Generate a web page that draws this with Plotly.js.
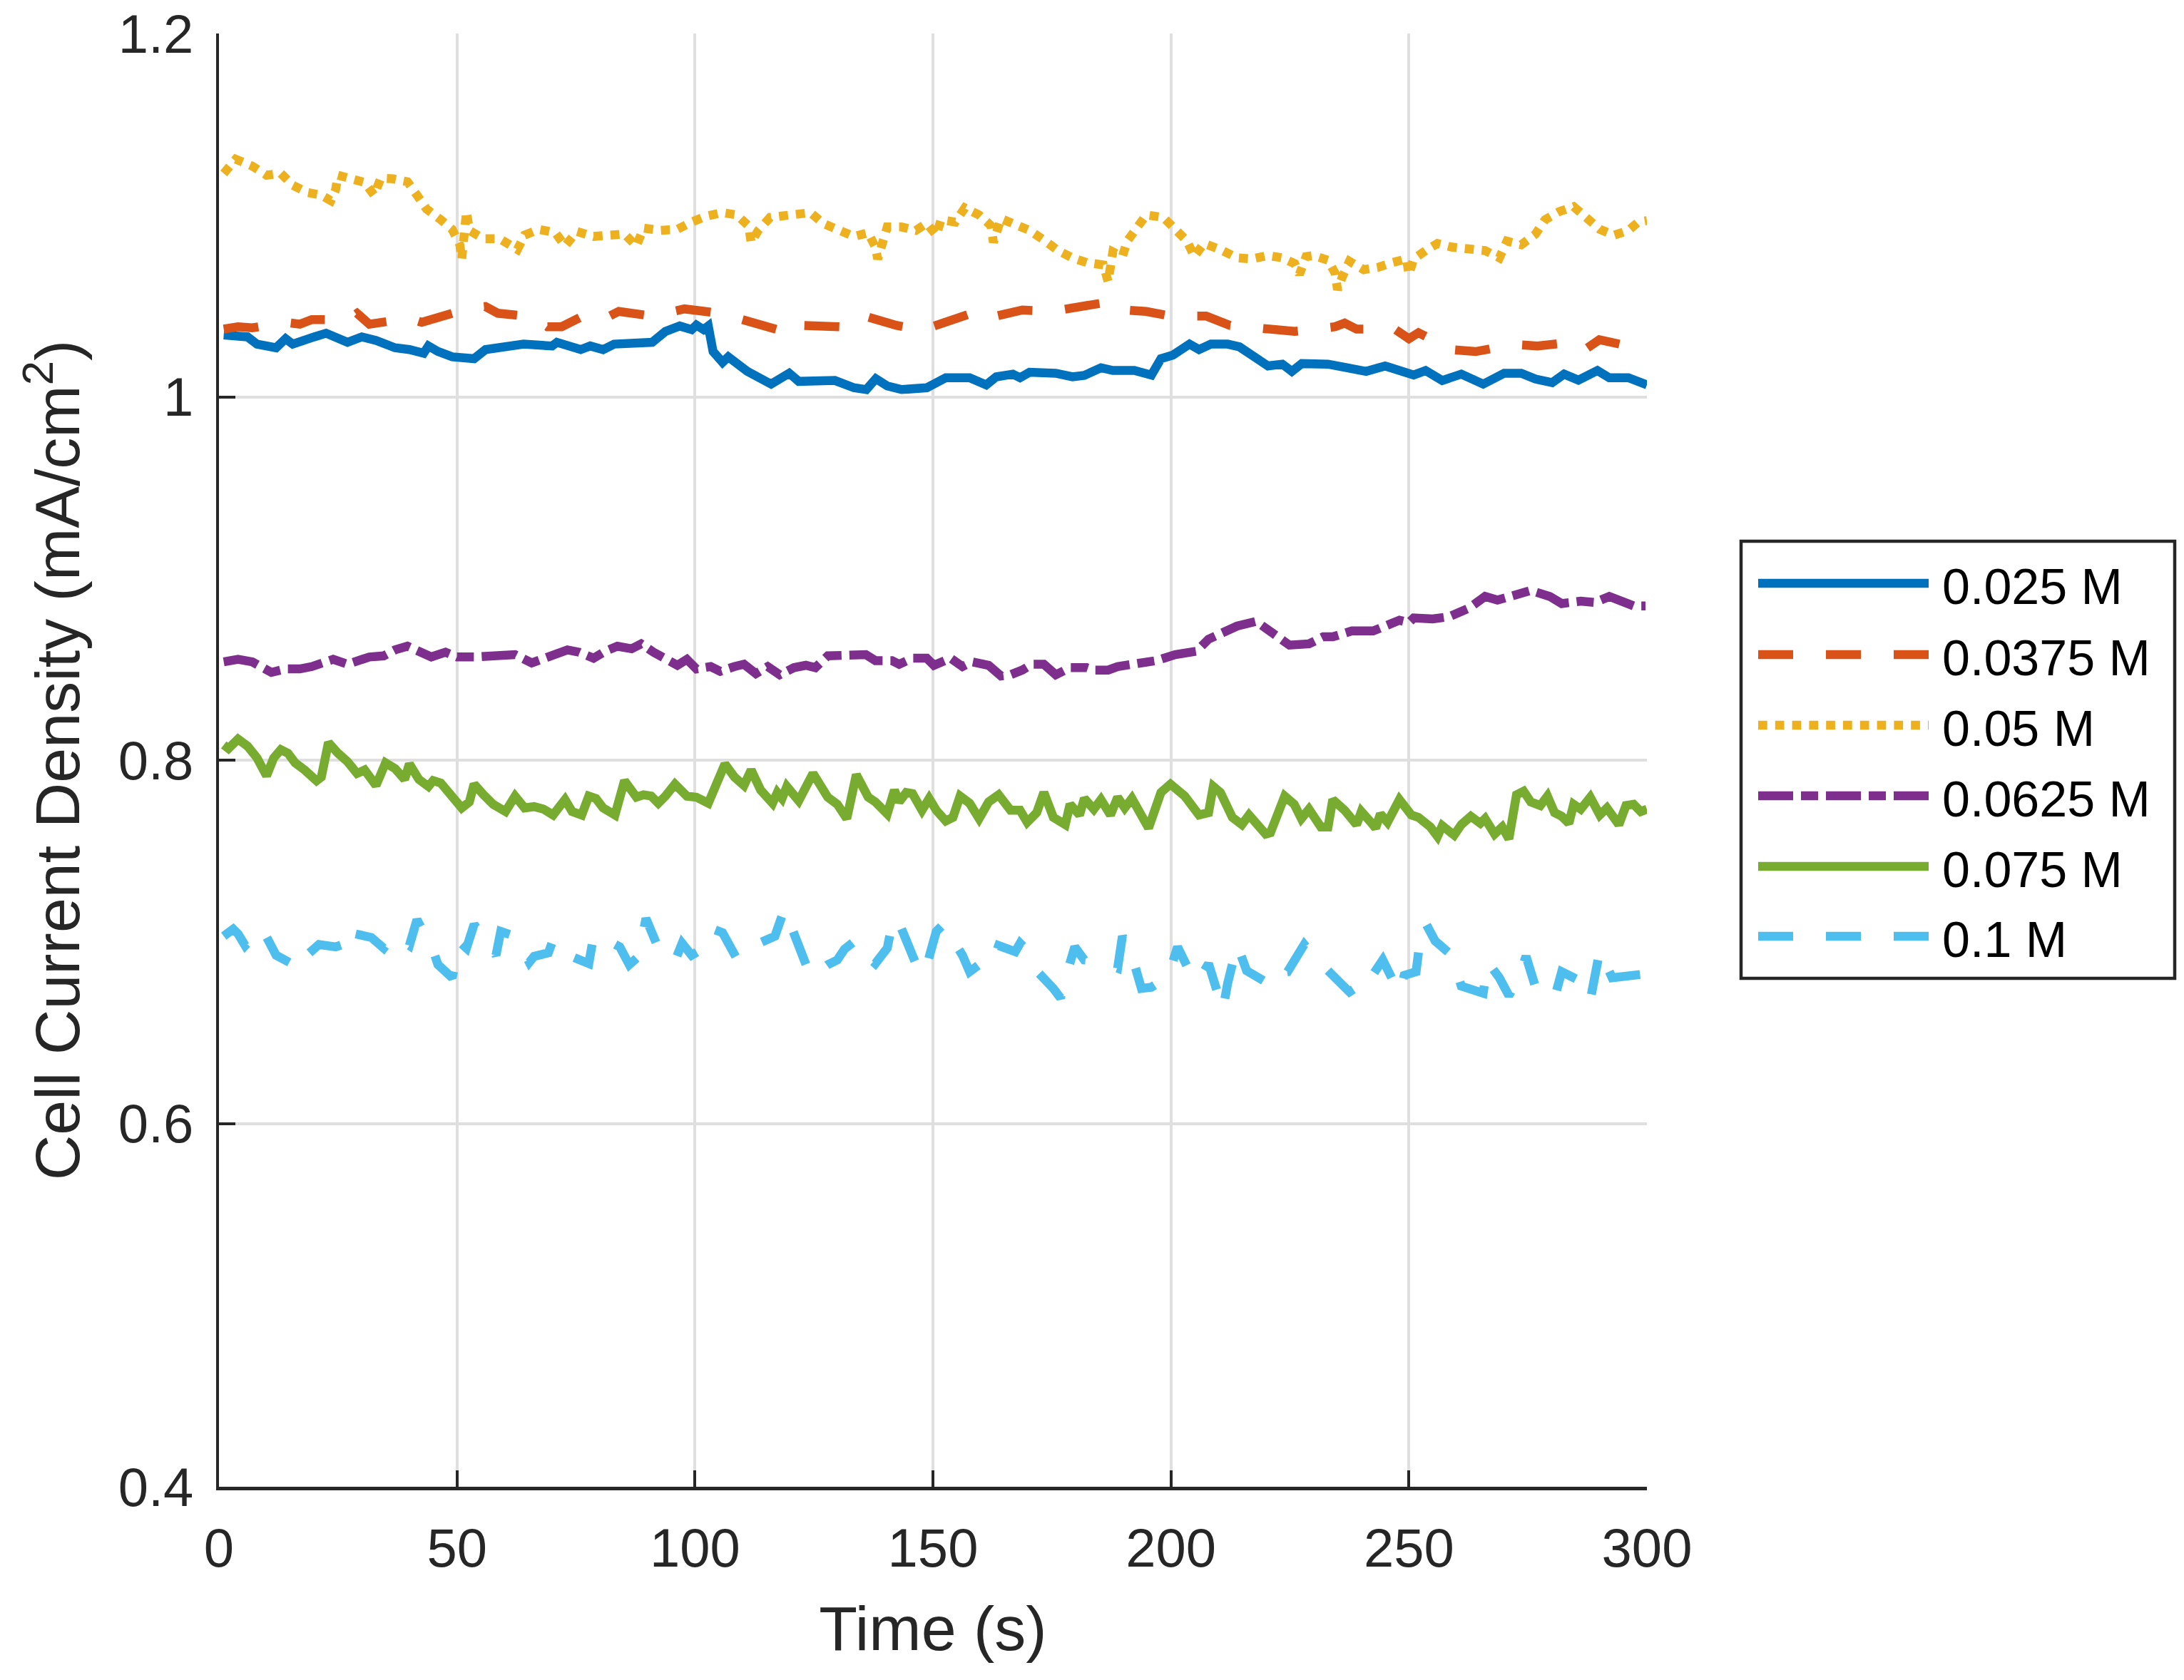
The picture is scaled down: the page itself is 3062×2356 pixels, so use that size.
<!DOCTYPE html>
<html>
<head>
<meta charset="utf-8">
<script src="https://cdn.plot.ly/plotly-3.0.1.min.js"></script>
<style>html,body{margin:0;padding:0;background:#fff;}#chart{width:3062px;height:2356px;}</style>
</head>
<body>
<div id="chart"></div>
<script>
// ---------- DATA (time s, current density mA/cm^2) ----------
const seriesNames = ["0.025 M", "0.0375 M", "0.05 M", "0.0625 M", "0.075 M", "0.1 M"];
const seriesColors = ["#0072BD", "#D95319", "#EDB120", "#7E2F8E", "#77AC30", "#4DBEEE"];
const xTickVals = [0, 50, 100, 150, 200, 250, 300];
const yTickVals = [0.4, 0.6, 0.8, 1.0, 1.2];
const yTickText = ["0.4", "0.6", "0.8", "1", "1.2"];

const s025 = [[1,1.034],[6,1.033],[8,1.029],[12,1.027],[14,1.032],[15.5,1.029],[20,1.033],[22.5,1.035],[27,1.030],[30,1.033],[33,1.031],[37,1.027],[40,1.026],[43,1.024],[44,1.028],[46,1.025],[49,1.022],[53.6,1.021],[56,1.026],[61,1.028],[64,1.029],[70,1.028],[71,1.030],[76,1.026],[78,1.028],[80.7,1.026],[83,1.029],[91,1.030],[93.8,1.036],[96.8,1.039],[99.3,1.037],[100.3,1.0395],[101.8,1.037],[102.8,1.039],[103.8,1.025],[105.8,1.019],[107,1.022],[111,1.014],[116,1.007],[119.8,1.013],[121.8,1.0085],[129.4,1.009],[133.4,1.005],[136,1.004],[138,1.010],[140.4,1.006],[143.4,1.004],[148.7,1.005],[152.7,1.0105],[157.7,1.0105],[161.2,1.0066],[163.3,1.011],[166.8,1.0125],[168.3,1.0105],[170.3,1.0135],[175.8,1.013],[179.3,1.011],[181.8,1.0118],[185.3,1.016],[187.8,1.0145],[192.3,1.0145],[195.9,1.012],[197.9,1.021],[200.4,1.023],[203.9,1.029],[205.9,1.026],[208.4,1.029],[211.9,1.029],[214.4,1.0275],[220.4,1.017],[223.4,1.018],[225.4,1.014],[227.5,1.0183],[233,1.018],[241,1.014],[245,1.017],[251,1.012],[253.5,1.0145],[257,1.009],[261,1.0125],[265.6,1.007],[270,1.013],[273.6,1.013],[276.6,1.0098],[280.1,1.0078],[282.6,1.0125],[285.6,1.0092],[289.6,1.0145],[292.1,1.0105],[296.1,1.0105],[300,1.0066]];

const s0375 = [[1,1.0373],[4,1.0386],[7,1.038],[14,1.041],[17,1.040],[19.5,1.0425],[27,1.0425],[29,1.046],[31.6,1.040],[40,1.0432],[42.6,1.041],[45.6,1.0432],[53,1.049],[56,1.0497],[58.6,1.046],[66,1.044],[69,1.0386],[72,1.0386],[78,1.0465],[81.7,1.044],[84,1.047],[91,1.0445],[97.8,1.0484],[105.3,1.046],[110.3,1.042],[117.3,1.037],[120.3,1.0425],[122.8,1.0393],[130.4,1.0386],[134.9,1.045],[142.4,1.0393],[147.7,1.0367],[155.7,1.0438],[158.7,1.0465],[161.2,1.0432],[168.8,1.0478],[174.8,1.047],[181.8,1.0504],[185.8,1.0517],[187.3,1.0484],[194.8,1.047],[199.9,1.0445],[207.4,1.0445],[212.4,1.0393],[221,1.0367],[226,1.036],[234.5,1.0386],[236.5,1.0406],[239,1.0373],[247,1.0373],[250,1.032],[252,1.0353],[259,1.026],[264,1.0249],[272,1.0288],[277,1.028],[284,1.03],[287,1.026],[290,1.0314],[297,1.0275],[300,1.0314]];

const s05 = [[1,1.123],[3.5,1.1308],[7,1.127],[10,1.122],[13,1.123],[15.5,1.1165],[18.5,1.1125],[21.5,1.111],[23.5,1.108],[24.5,1.114],[25,1.122],[27.5,1.1204],[30.6,1.118],[32.6,1.111],[34,1.1204],[36.6,1.120],[39.6,1.1184],[41.6,1.111],[43.6,1.1034],[46.6,1.0975],[49,1.0922],[50.6,1.0837],[51,1.0759],[52,1.102],[52.6,1.0916],[55.6,1.087],[59,1.087],[62.7,1.0811],[64.2,1.089],[67.2,1.0922],[70.7,1.0903],[72.7,1.083],[75.2,1.091],[78.7,1.0883],[82.2,1.0896],[85.2,1.0896],[87.7,1.083],[89.2,1.0929],[92.7,1.0916],[96.3,1.0922],[99.3,1.0962],[102.3,1.0994],[105.8,1.1014],[108.8,1.1001],[111.3,1.094],[111.8,1.085],[113.3,1.0916],[115.8,1.0988],[117.8,1.0994],[121.3,1.1001],[124.3,1.1014],[126.9,1.0955],[129.9,1.0922],[133.4,1.0883],[136.4,1.0903],[137.9,1.0824],[138.4,1.0759],[139.4,1.085],[140.4,1.0935],[143.4,1.0935],[146.4,1.0916],[148.7,1.0955],[150.7,1.089],[151.7,1.0975],[154.7,1.0962],[156.7,1.104],[159.7,1.1001],[162.2,1.0942],[162.7,1.085],[164.3,1.0981],[167.3,1.0942],[170.3,1.0916],[173.3,1.0863],[176.3,1.0805],[179.3,1.0765],[182.3,1.0739],[185.8,1.0726],[186.8,1.0635],[187.8,1.0798],[189.8,1.0772],[190.8,1.0857],[192.8,1.0929],[194.8,1.1001],[198.4,1.0988],[200.9,1.0929],[203.4,1.0857],[204.9,1.0772],[206.9,1.0844],[210.4,1.0811],[213.9,1.0765],[216.9,1.0759],[220.4,1.0778],[223.4,1.0765],[226,1.0733],[227,1.0674],[228.4,1.0772],[230,1.0778],[233,1.0752],[234.5,1.068],[235,1.0589],[236,1.066],[237.5,1.0746],[240.5,1.07],[243.5,1.0713],[246.5,1.0739],[249.5,1.0759],[250,1.0674],[251,1.0759],[253.5,1.0805],[256,1.0844],[259,1.0824],[262.6,1.0811],[266,1.0805],[269,1.0765],[270.6,1.0857],[273.6,1.0837],[276.6,1.0896],[278.6,1.0975],[281.6,1.102],[284.6,1.1047],[287.1,1.0988],[290.1,1.0922],[293.1,1.089],[296.1,1.0916],[298.2,1.0962],[300,1.097]];

const s0625 = [[1,0.8541],[4,0.8555],[7,0.8541],[9,0.8509],[11,0.8483],[14,0.8502],[17,0.8502],[19.5,0.8515],[22.5,0.8535],[24,0.8555],[27,0.8528],[30,0.8548],[31.6,0.8568],[34.6,0.8574],[37,0.8607],[39.6,0.8627],[42,0.8594],[44.6,0.8568],[47.6,0.8594],[50,0.8568],[54,0.8568],[58.2,0.8574],[62.2,0.8581],[65.7,0.8535],[70.2,0.8574],[73.2,0.8607],[75.7,0.8594],[78.7,0.8561],[81.2,0.86],[83.7,0.8627],[86.7,0.8613],[88.7,0.864],[91.3,0.8594],[93.8,0.8555],[96.3,0.8522],[98.3,0.8555],[100.3,0.8502],[103.3,0.8515],[105.3,0.8489],[108.3,0.8515],[110.3,0.8528],[112.8,0.8476],[115.3,0.8515],[117.8,0.847],[120.8,0.8509],[123.3,0.8522],[125.3,0.8509],[127.9,0.8574],[131.9,0.8574],[135.9,0.8581],[137.9,0.8548],[141.4,0.8548],[142.9,0.8528],[145.7,0.8561],[148.7,0.8561],[150.2,0.8522],[153.7,0.8561],[156.2,0.8515],[158.2,0.8541],[161.7,0.8522],[164.3,0.8463],[166.3,0.847],[168.8,0.8496],[170.8,0.8528],[173.3,0.8528],[175.8,0.847],[178.8,0.8509],[182.3,0.8509],[183.8,0.8496],[186.8,0.8496],[188.8,0.8515],[192.8,0.8528],[196.9,0.8548],[200.9,0.8581],[205.4,0.86],[207.9,0.8666],[209.9,0.8692],[212.4,0.8711],[213.9,0.8738],[217.9,0.8764],[220.4,0.8718],[222.4,0.8672],[224.9,0.8633],[229,0.864],[232,0.8679],[234,0.8679],[238,0.8711],[242.5,0.8711],[245.5,0.8744],[248,0.877],[250,0.8757],[251,0.8783],[255,0.8777],[258.5,0.879],[262.6,0.8836],[266,0.8901],[268.6,0.8881],[271,0.8901],[275.6,0.8934],[279.6,0.8901],[282.1,0.8862],[286.1,0.8875],[289.1,0.8868],[292.1,0.8901],[295.1,0.8875],[297.2,0.8849],[299.7,0.8849]];

const s075 = [[1,0.8084],[2,0.8064],[4,0.8116],[6,0.8077],[8,0.8012],[10,0.7914],[11.5,0.8012],[13,0.8058],[14.5,0.8038],[16,0.7985],[18,0.7946],[20.5,0.7887],[21.5,0.7907],[23,0.8097],[25,0.8038],[27,0.7992],[29,0.7927],[30.6,0.7946],[33,0.7861],[35,0.7985],[37,0.7953],[39,0.7894],[40,0.7979],[42,0.7894],[44,0.7855],[45,0.7887],[46.6,0.7874],[49,0.7796],[51,0.7737],[52.6,0.777],[53.6,0.7868],[55.6,0.7809],[57.6,0.7757],[60.2,0.7717],[62.2,0.7802],[64.2,0.7737],[66.2,0.7744],[68.2,0.773],[70.2,0.7698],[72.7,0.7783],[74.2,0.7717],[76.2,0.7698],[77.7,0.7802],[79.2,0.7789],[80.7,0.7737],[83.2,0.7698],[85.2,0.7887],[87.7,0.7796],[89.2,0.7809],[90.8,0.7802],[92.3,0.7763],[93.8,0.7802],[95.8,0.7868],[98.3,0.7802],[100.3,0.7796],[102.8,0.7763],[104.3,0.7868],[106.3,0.7979],[108.3,0.7907],[110.3,0.7861],[111.8,0.7946],[113.8,0.7835],[116.3,0.7763],[117.3,0.7822],[118.3,0.7789],[119.3,0.7855],[121.8,0.7776],[123.3,0.7842],[124.8,0.7927],[127.9,0.7796],[129.9,0.7757],[131.9,0.7678],[133.9,0.792],[136.4,0.7796],[137.9,0.777],[140.4,0.7704],[141.9,0.7835],[142.9,0.777],[144.4,0.7822],[145.7,0.7816],[147.7,0.7724],[149.2,0.7789],[150.7,0.7724],[152.7,0.7665],[154.2,0.7685],[155.7,0.7802],[157.7,0.7763],[159.7,0.7678],[161.7,0.777],[163.8,0.7809],[166.3,0.7724],[168.3,0.7724],[169.8,0.7658],[171.8,0.7711],[173.3,0.7822],[175.3,0.7685],[177.8,0.7645],[178.8,0.7757],[180.8,0.7698],[181.8,0.7789],[183.8,0.773],[185.3,0.7783],[187.3,0.7698],[188.8,0.7796],[190.3,0.7737],[191.8,0.7789],[195.3,0.7626],[197.9,0.7822],[199.9,0.7868],[202.9,0.7802],[205.9,0.7698],[207.9,0.7711],[208.9,0.7855],[210.4,0.7822],[212.9,0.7685],[214.9,0.7645],[216.4,0.7698],[219.9,0.7593],[220.9,0.76],[223.9,0.7802],[225.9,0.7757],[227.4,0.7678],[229,0.773],[231.5,0.7632],[233,0.7632],[234,0.7783],[236.5,0.7724],[239,0.7645],[240,0.7717],[242,0.7658],[243,0.7626],[244,0.7704],[245.5,0.7658],[248,0.7783],[250.5,0.7698],[252,0.7685],[254.5,0.7632],[256,0.758],[257,0.7639],[259.5,0.7587],[261,0.7645],[263,0.7691],[265,0.7652],[266,0.7678],[268,0.7593],[269.6,0.7632],[271,0.7567],[272.6,0.7809],[274.1,0.7829],[275.6,0.777],[277.6,0.775],[279.1,0.7802],[280.6,0.7711],[282.1,0.7691],[283.6,0.7652],[284.6,0.7757],[286.1,0.773],[288.1,0.7796],[290.1,0.7698],[291.6,0.7737],[294.1,0.7645],[295.6,0.775],[297.2,0.7757],[298.7,0.7717],[300,0.773]];

const s01 = [[1,0.7031],[3,0.707],[4,0.7044],[5.5,0.6979],[9,0.7077],[10.5,0.7005],[12,0.6926],[17.5,0.6848],[19,0.6939],[21,0.6985],[24.5,0.6972],[26,0.6985],[27,0.6939],[28.6,0.7044],[32,0.7024],[34.6,0.6965],[36.6,0.7037],[40,0.6979],[41.6,0.7122],[45,0.6952],[46,0.6874],[49,0.6802],[50.6,0.6998],[52,0.6965],[53.6,0.7096],[57.2,0.6965],[58.2,0.6926],[59.2,0.7057],[62.2,0.7031],[64.2,0.6939],[65.2,0.6887],[66.2,0.692],[69.2,0.6939],[70.2,0.7011],[72.2,0.6939],[77.7,0.688],[78.7,0.7031],[79.7,0.7037],[84.2,0.6972],[86.2,0.6874],[88.2,0.692],[89.7,0.7129],[92.3,0.6965],[95.8,0.6894],[97.3,0.6992],[99.3,0.6926],[102.8,0.6979],[103.8,0.707],[105.8,0.705],[108.8,0.6907],[110.3,0.6946],[112.3,0.6979],[116.8,0.7031],[118.8,0.7181],[121.8,0.6979],[124.3,0.6809],[127.9,0.6874],[129.9,0.69],[131.4,0.6959],[133.9,0.7011],[135.4,0.6939],[137.9,0.688],[140.4,0.6965],[141.4,0.7096],[142.4,0.7135],[145.4,0.6952],[146.7,0.6861],[148.2,0.6822],[150.7,0.7057],[152.2,0.7096],[156.2,0.6926],[157.7,0.6835],[159.7,0.6874],[162.2,0.6861],[163.8,0.6979],[167.3,0.6946],[168.3,0.6992],[169.8,0.6952],[170.8,0.6867],[175.3,0.6743],[176.8,0.6691],[177.8,0.6796],[179.8,0.6972],[181.8,0.69],[184.3,0.6894],[188.8,0.6854],[189.8,0.7031],[192.3,0.688],[193.8,0.6743],[195.9,0.675],[199.4,0.6809],[201.4,0.6972],[204.9,0.6783],[206.9,0.6835],[207.9,0.688],[210.9,0.6625],[211.9,0.6769],[213.9,0.6985],[214.9,0.6926],[215.9,0.6841],[221.4,0.6756],[223,0.6828],[224.5,0.6835],[226.4,0.6913],[228,0.6985],[230,0.692],[234.5,0.6809],[237.5,0.6724],[239,0.675],[241.5,0.6743],[242.5,0.6822],[244.5,0.69],[248,0.6717],[249,0.6815],[251.5,0.6835],[252.5,0.7044],[253.5,0.7103],[255.5,0.7005],[259,0.6926],[261,0.6756],[265.6,0.6717],[266.6,0.6887],[269,0.6802],[271,0.6704],[272.6,0.6776],[274.6,0.692],[276.6,0.675],[280.6,0.6691],[282.1,0.6835],[286.1,0.6783],[288.1,0.6678],[290.1,0.6952],[292.7,0.6802],[299.2,0.6822],[300,0.681]];

const seriesData = [s025, s0375, s05, s0625, s075, s01];
// ---------- STYLE ----------
const dashes = ["solid", "49px,46px", "12.7px,11.1px", "49px,11px,24px,11px", "solid", "49px,46px"];
const LW = 12.5;
const FONT = "Liberation Sans, Arial, Helvetica, sans-serif";
const AX = "#262626";
const W = 3062, H = 2356;
const PL = 307, PR = 2309, PT = 47, PB = 2085;

const traces = seriesData.map((s, i) => ({
  type: "scatter", mode: "lines",
  x: s.map(p => p[0]), y: s.map(p => p[1]),
  name: seriesNames[i],
  line: {color: seriesColors[i], width: LW, dash: dashes[i]},
  showlegend: false, hoverinfo: "skip"
}));

// custom legend (decoration) in paper coordinates
const px = x => (x - PL) / (PR - PL);
const py = y => (PB - y) / (PB - PT);
const shapes = [{
  type: "rect", xref: "paper", yref: "paper",
  x0: px(2441), x1: px(3049), y0: py(1372), y1: py(759),
  line: {color: AX, width: 4.5}, fillcolor: "#ffffff", layer: "above"
}];
const annotations = [];
const rowY = [818, 918, 1017, 1116, 1215, 1313];
seriesNames.forEach((nm, i) => {
  shapes.push({type: "line", xref: "paper", yref: "paper",
    x0: px(2465), x1: px(2704), y0: py(rowY[i]), y1: py(rowY[i]),
    line: {color: seriesColors[i], width: LW, dash: dashes[i]}, layer: "above"});
  annotations.push({xref: "paper", yref: "paper", x: px(2721), y: py(rowY[i] + 5),
    xanchor: "left", yanchor: "middle", showarrow: false, text: nm,
    font: {family: FONT, size: 70, color: "#000000"}});
});

const layout = {
  width: W, height: H,
  margin: {l: PL, r: W - PR, t: PT, b: H - PB, pad: 0},
  paper_bgcolor: "#ffffff", plot_bgcolor: "#ffffff",
  font: {family: FONT, color: AX},
  xaxis: {
    range: [0, 300], tickvals: xTickVals, ticktext: xTickVals.map(String),
    ticks: "inside", ticklen: 23, tickwidth: 4, tickcolor: AX,
    showline: true, linewidth: 4.5, linecolor: AX, mirror: false,
    showgrid: true, gridcolor: "#dfdfdf", gridwidth: 4, zeroline: false,
    tickfont: {family: FONT, size: 76, color: AX}, ticklabelstandoff: 16,
    title: {text: "Time (s)", font: {family: FONT, size: 88, color: AX}, standoff: 42},
    automargin: false
  },
  yaxis: {
    range: [0.4, 1.2], tickvals: yTickVals, ticktext: yTickText,
    ticks: "inside", ticklen: 23, tickwidth: 4, tickcolor: AX,
    showline: true, linewidth: 4.5, linecolor: AX, mirror: false,
    showgrid: true, gridcolor: "#dfdfdf", gridwidth: 4, zeroline: false,
    tickfont: {family: FONT, size: 76, color: AX}, ticklabelstandoff: 16,
    title: {text: "Cell Current Density (mA/cm<sup>2</sup>)", font: {family: FONT, size: 88, color: AX}, standoff: 26},
    automargin: false
  },
  shapes: shapes, annotations: annotations, showlegend: false
};

Plotly.newPlot("chart", traces, layout, {staticPlot: true, displayModeBar: false});
</script>
</body>
</html>
